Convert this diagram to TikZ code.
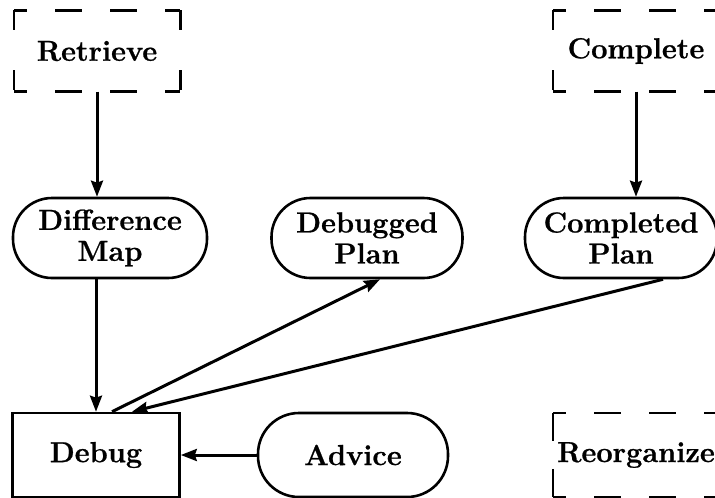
\documentclass[tikz,border=0pt]{standalone}
\usepackage{fontspec}
\setmainfont{Latin Modern Roman}[BoldFeatures={FakeBold=0.8}]
\usetikzlibrary{arrows.meta,calc}
\begin{document}
\begin{tikzpicture}[x=1pt,y=-1pt,
  every node/.style={font=\fontsize{29}{31}\selectfont\bfseries, align=center, inner sep=0pt},
  solidbox/.style={draw, line width=2.6pt, minimum width=167pt, minimum height=84pt},
  dashbox/.style={minimum width=166pt, minimum height=81pt},
  stadium/.style={draw, line width=2.6pt, rounded corners=39pt, minimum height=80pt},
  hdash/.style={line width=2.6pt, dash pattern=on 27pt off 28pt, dash phase=13.5pt},
  vdash/.style={line width=2.6pt, dash pattern=on 20pt off 40pt},
  link/.style={line width=3pt, -{Stealth[length=16pt,width=12pt,inset=2pt]}}
]
\useasboundingbox (0,0) rectangle (715,498);
\clip (0,0) rectangle (715,498);

% process steps (dashed) and data items (rounded)
\node[dashbox] (ret) at (97,51) {Retrieve};
\node[dashbox] (comp) at (636,51) {Complete};
\node[stadium, minimum width=194pt] (dm) at (110,238) {Difference\\Map};
\node[stadium, minimum width=191pt] (dp) at (367,238) {Debugged\\Plan};
\node[stadium, minimum width=192pt] (cp) at (621,238) {Completed\\Plan};
\node[solidbox] (dbg) at (96,455) {Debug};
\node[stadium, minimum width=190pt, minimum height=84pt, rounded corners=41pt] (adv) at (353,455) {Advice};
\node[dashbox, minimum height=84pt] (reo) at (636,455) {Reorganize};

% dashed outlines with solid corners
\foreach \b in {ret,comp,reo}{
  \draw[hdash] (\b.north west) -- (\b.north east);
  \draw[hdash] (\b.south west) -- (\b.south east);
}
\foreach \b in {ret,comp}{
  \draw[vdash] (\b.north west) -- (\b.south west);
  \draw[vdash] (\b.north east) -- (\b.south east);
}
\draw[vdash, dash pattern=on 28pt off 28pt] (reo.north west) -- (reo.south west);
\draw[vdash, dash pattern=on 28pt off 28pt] (reo.north east) -- (reo.south east);

% connectors
\draw[link] (ret.south) -- (ret.south |- dm.north);
\draw[link] (comp.south) -- (comp.south |- cp.north);
\draw[link] (dbg.north |- dm.south) -- (dbg.north);
\draw[link] ($(dbg.north)+(16,0)$) -- ($(dp.south)+(13,0)$);
\draw[link] ($(cp.south)+(42,0)$) -- ($(dbg.north)+(36,0)$);
\draw[link] (adv.west) -- (dbg.east);
\end{tikzpicture}
\end{document}
